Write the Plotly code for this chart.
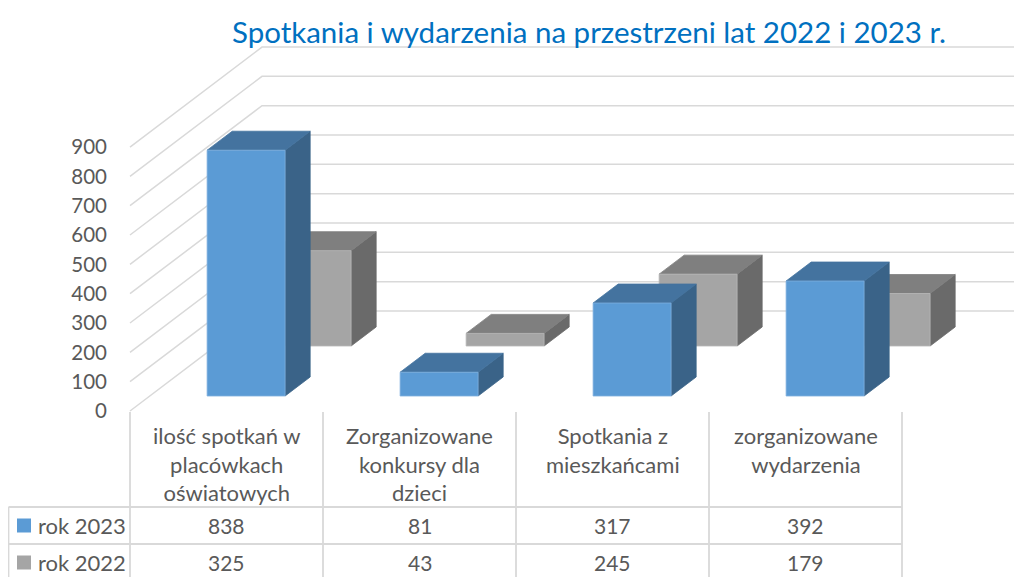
import plotly.graph_objects as go

# ---- data ----
categories = ["ilość spotkań w<br>placówkach<br>oświatowych",
              "Zorganizowane<br>konkursy dla<br>dzieci",
              "Spotkania z<br>mieszkańcami",
              "zorganizowane<br>wydarzenia"]
series_names = ["rok 2023", "rok 2022"]
values_2023 = [838, 81, 317, 392]
values_2022 = [325, 43, 245, 179]
y_ticks = [0, 100, 200, 300, 400, 500, 600, 700, 800, 900]
title_text = "Spotkania i wydarzenia na przestrzeni lat 2022 i 2023 r."

# ---- style / projection constants (screen pixels) ----
SCR_W, SCR_H = 1022, 577
PAGE_OFF = 8                      # default page margin of the html body
W, H = SCR_W - PAGE_OFF, SCR_H - PAGE_OFF
CAT_PX = 193.0          # pixels per category at the front plane
K = 0.2933              # pixels per value unit
X0_PX, Y0_PX = 130.0, 411.0   # front-left floor corner (screen pixels)
DEPTH_DX_PX, DEPTH_DY_PX = 132.0, 100.0
DX = DEPTH_DX_PX / CAT_PX     # depth shift in category units
DY = DEPTH_DY_PX / K          # depth shift in value units
BAR_L, BAR_R = 0.297, 0.701   # bar extent inside a category
ROWS = {"rok 2022": (0.65, 0.84), "rok 2023": (0.15, 0.34)}
COLORS = {
    "rok 2023": dict(front="#5B9BD5", top="#44739F", side="#3A6388", edge="#7FB0DE"),
    "rok 2022": dict(front="#A5A5A5", top="#7F7F7F", side="#6A6A6A", edge="#B8B8B8"),
}
GRID = "#D9D9D9"
TXT = "#595959"
FONT = "Lato"


def px2x(px):
    return (px - X0_PX) / CAT_PX


def py2y(py):
    return (Y0_PX - py) / K


fig = go.Figure()

# ---- walls (gridlines) ----
right_end = px2x(SCR_W + 20)
for v in y_ticks:
    fig.add_trace(go.Scatter(x=[0, DX, right_end], y=[v, v + DY, v + DY], mode="lines",
                             line=dict(color=GRID, width=1.5), hoverinfo="skip", showlegend=False))


def poly(xs, ys, color, edge):
    fig.add_trace(go.Scatter(x=xs + [xs[0]], y=ys + [ys[0]], mode="lines", fill="toself",
                             fillcolor=color, line=dict(color=edge, width=0.8),
                             hoverinfo="skip", showlegend=False))


# ---- 3D bars: back row first ----
for name, vals in (("rok 2022", values_2022), ("rok 2023", values_2023)):
    t0, t1 = ROWS[name]
    c = COLORS[name]
    for i, v in enumerate(vals):
        xl = i + BAR_L + t0 * DX
        xr = i + BAR_R + t0 * DX
        base = t0 * DY
        top = base + v
        ddx = (t1 - t0) * DX
        ddy = (t1 - t0) * DY
        poly([xr, xr, xr + ddx, xr + ddx], [base, top, top + ddy, base + ddy], c["side"], c["side"])
        poly([xl, xr, xr + ddx, xl + ddx], [top, top, top + ddy, top + ddy], c["top"], c["top"])
        poly([xl, xr, xr, xl], [base, base, top, top], c["front"], c["edge"])

# ---- data table ----
shapes = []
tbl_top = py2y(412)
row1 = py2y(507)
row2 = py2y(544)
row3 = py2y(581)
bottom = py2y(600)
left_px = px2x(8.5)
ncat = len(categories)
for i in range(ncat + 1):
    shapes.append(dict(type="line", xref="x", yref="y", x0=i, x1=i, y0=tbl_top, y1=bottom,
                       line=dict(color=GRID, width=1.8)))
shapes.append(dict(type="line", xref="x", yref="y", x0=left_px, x1=left_px, y0=row1, y1=bottom,
                   line=dict(color=GRID, width=1.8)))
for yy in (row1, row2, row3):
    shapes.append(dict(type="line", xref="x", yref="y", x0=left_px, x1=ncat, y0=yy, y1=yy,
                       line=dict(color=GRID, width=1.8)))

annotations = []
for i, cat in enumerate(categories):
    annotations.append(dict(x=i + 0.5, y=py2y(420), xref="x", yref="y", text=cat, showarrow=False,
                            xanchor="center", yanchor="top", align="center",
                            font=dict(family=FONT, size=22, color=TXT)))
row_centers = [py2y(525.5), py2y(562.5)]
for r, (name, vals) in enumerate((("rok 2023", values_2023), ("rok 2022", values_2022))):
    for i, v in enumerate(vals):
        annotations.append(dict(x=i + 0.5, y=row_centers[r], xref="x", yref="y", text=str(v),
                                showarrow=False, xanchor="center", yanchor="middle",
                                font=dict(family=FONT, size=21, color=TXT)))
    annotations.append(dict(x=px2x(36), y=row_centers[r], xref="x", yref="y", text=name,
                            showarrow=False, xanchor="left", yanchor="middle",
                            font=dict(family=FONT, size=22, color=TXT)))
    fig.add_trace(go.Scatter(x=[px2x(24)], y=[row_centers[r]], mode="markers",
                             marker=dict(symbol="square", size=14, color=COLORS[name]["front"]),
                             hoverinfo="skip", showlegend=False))

fig.update_layout(
    width=W, height=H,
    margin=dict(l=0, r=0, t=0, b=0),
    paper_bgcolor="white", plot_bgcolor="white",
    showlegend=False,
    shapes=shapes,
    annotations=annotations,
    title=dict(text=title_text, x=(589 - PAGE_OFF) / W, xanchor="center",
               y=1 - (33 - PAGE_OFF) / H, yanchor="middle",
               font=dict(family=FONT, size=29.5, color="#0070C0")),
    xaxis=dict(range=[px2x(PAGE_OFF), px2x(SCR_W)], visible=False, fixedrange=True),
    yaxis=dict(range=[py2y(SCR_H), py2y(PAGE_OFF)], showgrid=False, zeroline=False, showline=False,
               tickvals=y_ticks, ticktext=[str(v) for v in y_ticks],
               tickfont=dict(family=FONT, size=20.5, color=TXT),
               anchor="free", position=(110 - PAGE_OFF) / W, ticks="", ticklabelstandoff=3,
               fixedrange=True),
)

fig.write_html("out.html")
